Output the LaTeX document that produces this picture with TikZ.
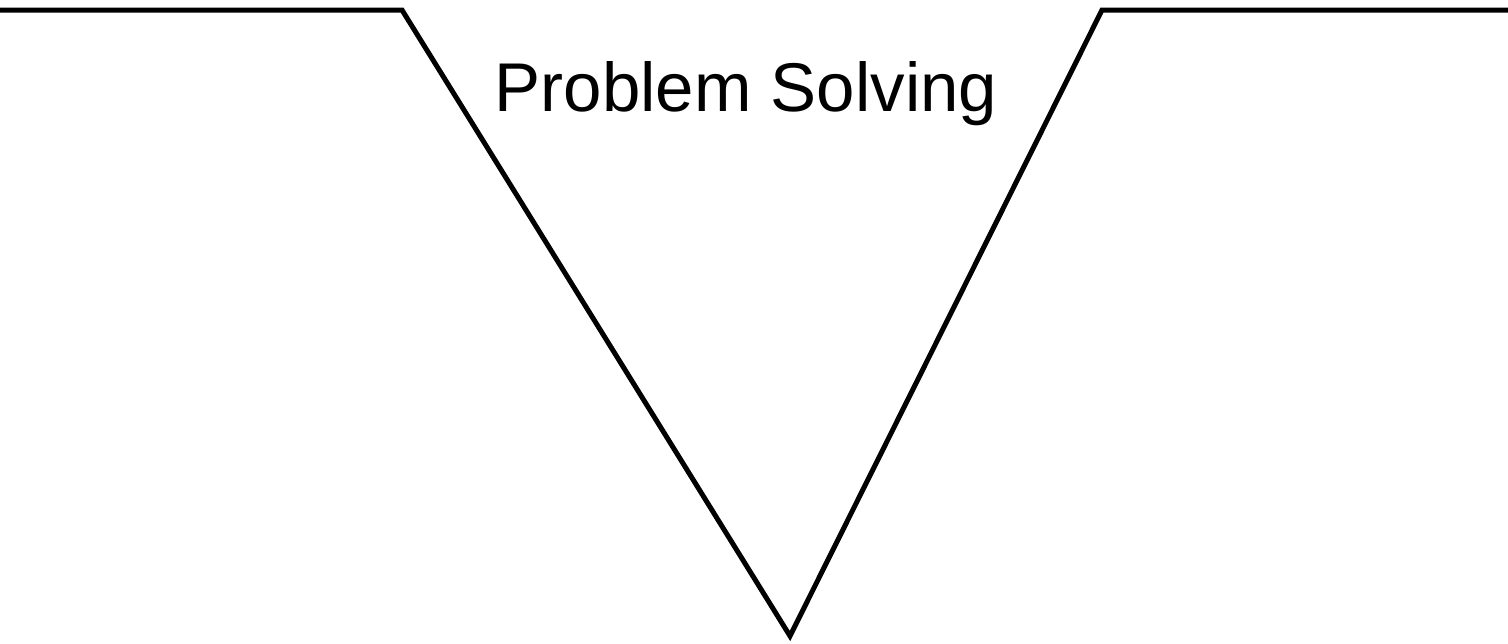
\documentclass[tikz,border=0pt]{standalone}
\usepackage{fontspec}
\setmainfont{Liberation Sans}
\begin{document}
\begin{tikzpicture}[x=1pt,y=-1pt,
  valley/.style={line width=5pt, line join=miter, black},
  title/.style={font=\fontsize{69}{80}\selectfont, inner sep=0pt, anchor=base}]
\useasboundingbox (0,0) rectangle (1508,643);
\coordinate (l) at (0,10);
\coordinate (a) at (402,10);
\coordinate (v) at (790,636);
\coordinate (b) at (1102,10);
\coordinate (r) at (1508,10);
\draw[valley] (l) -- (a) -- (v) -- (b) -- (r);
\node[title] (t) at (746,111) {Problem Solving};
\end{tikzpicture}
\end{document}
